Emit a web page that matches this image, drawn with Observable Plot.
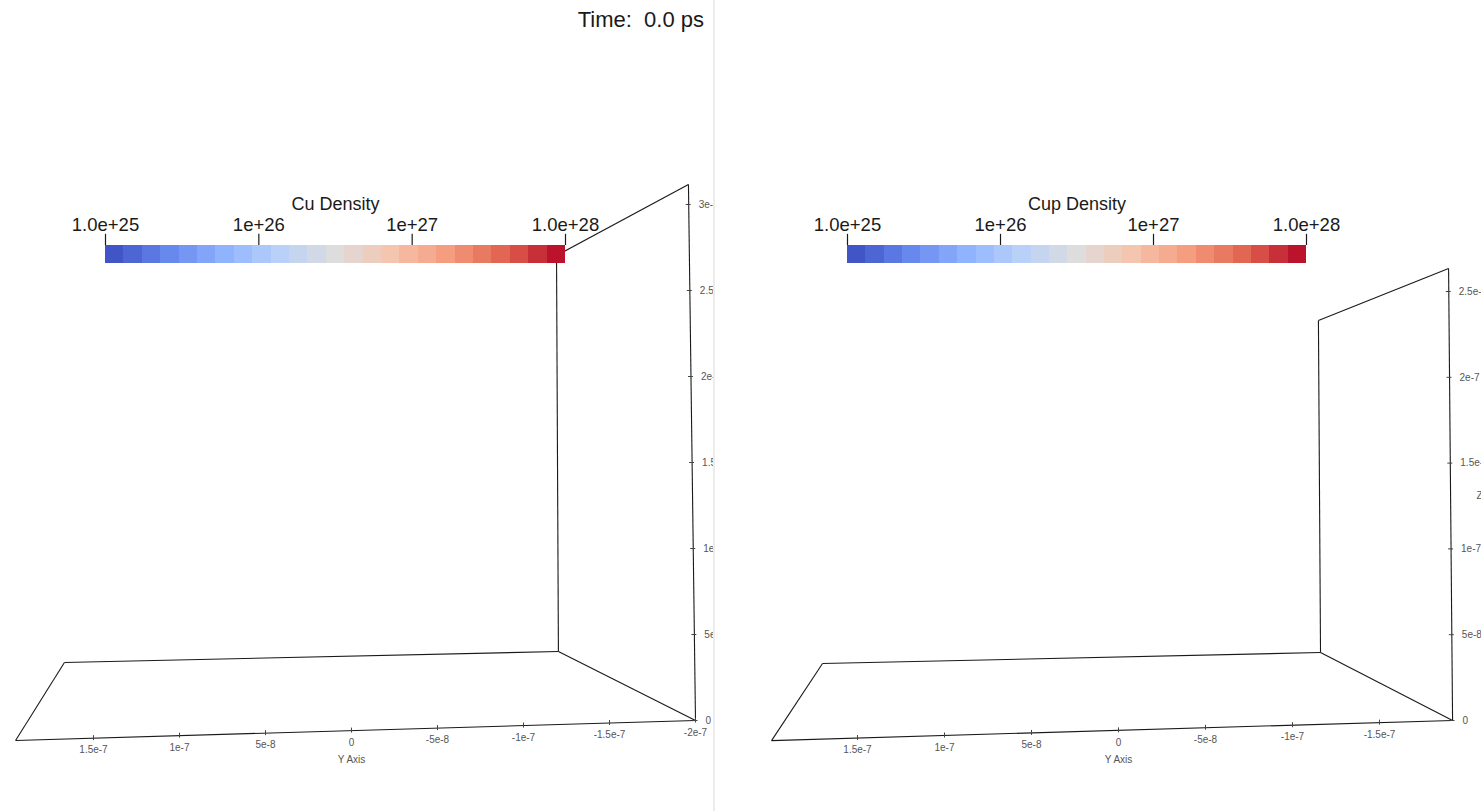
<!DOCTYPE html>
<html>
<head>
<meta charset="utf-8">
<script src="https://cdn.jsdelivr.net/npm/d3@7"></script>
<script src="https://cdn.jsdelivr.net/npm/@observablehq/plot@0.6"></script>
<style>
  html, body { margin: 0; padding: 0; background: #ffffff; }
  #root { position: relative; width: 1481px; height: 811px; overflow: hidden; font-family: "Liberation Sans", Arial, sans-serif; }
  .panel { position: absolute; top: 0; height: 811px; overflow: hidden; background: #ffffff; }
  .layer { position: absolute; top: 0; left: 0; }
  .divider { position: absolute; top: 0; left: 713px; width: 2px; height: 811px; background: #ececec; }
  .time { position: absolute; top: 9px; right: 9px; font-size: 22px; line-height: 22px; color: #1a1a1a; white-space: pre; }
</style>
</head>
<body>
<div id="root"></div>
<script>
// ---------------- data ----------------
const timeLabel = "Time:  0.0 ps";
const panelTitles = ["Cu Density", "Cup Density"];

const densityDomain = [1e25, 1e28];
const densityTicks = [1e25, 1e26, 1e27, 1e28];
const densityTickLabels = ["1.0e+25", "1e+26", "1e+27", "1.0e+28"];
const colorBinCount = 25;

const yAxisTicks = [2e-7, 1.5e-7, 1e-7, 5e-8, 0, -5e-8, -1e-7, -1.5e-7, -2e-7];
const yAxisTickLabels = ["2e-7", "1.5e-7", "1e-7", "5e-8", "0", "-5e-8", "-1e-7", "-1.5e-7", "-2e-7"];
const zAxisTicks = [0, 5e-8, 1e-7, 1.5e-7, 2e-7, 2.5e-7, 3e-7];
const zAxisTickLabels = ["0", "5e-8", "1e-7", "1.5e-7", "2e-7", "2.5e-7", "3e-7"];
const yAxisTitle = "Y Axis";
const zAxisTitle = "Z Axis";
const zAxisTitleAt = 1.31e-7;

// outline box corners, projected onto the (Y axis, Z axis) view plane
// order: front-left-bottom, front-right-bottom (axes origin), back-left-bottom,
//        back-right-bottom, back-right-top, front-right-top
const cuOutlineY = [1.953e-7, -2.0e-7, 1.669e-7, -1.203e-7, -1.192e-7, -1.959e-7];
const cuOutlineZ = [-1.16e-8, 0, 3.37e-8, 4.01e-8, 2.703e-7, 3.116e-7];
const cupOutlineY = [1.994e-7, -1.920e-7, 1.701e-7, -1.161e-7, -1.149e-7, -1.897e-7];
const cupOutlineZ = [-1.17e-8, 0, 3.32e-8, 3.96e-8, 2.331e-7, 2.634e-7];
const outlineEdges = [[0, 1], [0, 2], [2, 3], [3, 1], [3, 4], [4, 5], [5, 1]];

// ---------------- colour map (cool to warm) ----------------
const coolWarm = d3.piecewise(d3.interpolateRgb, [
  "rgb(59,76,192)", "rgb(98,130,234)", "rgb(141,176,254)", "rgb(184,208,249)",
  "rgb(221,221,221)", "rgb(245,196,173)", "rgb(244,154,123)", "rgb(222,96,77)", "rgb(180,4,38)"
]);

const FONT = "'Liberation Sans', Arial, sans-serif";
const INK = "#1a1a1a";

function panelPlot(cfg) {
  const Ys = cfg.outlineY, Zs = cfg.outlineZ;
  const edges = outlineEdges.map(([i, j]) => ({y1: Ys[i], z1: Zs[i], y2: Ys[j], z2: Zs[j]}));
  // Y axis runs along front bottom edge (corner 0 -> corner 1)
  const yA = Ys[0], zA = Zs[0], yB = Ys[1], zB = Zs[1];
  const eps = 1e-12;
  const yTicks = yAxisTicks.map((v, i) => ({v, label: yAxisTickLabels[i]}))
    .filter(d => d.v <= yA + eps && d.v >= yB - eps)
    .map(d => ({...d, z: zA + (yA - d.v) / (yA - yB) * (zB - zA)}));
  // Z axis runs along front right vertical edge (corner 1 -> corner 5)
  const yF = Ys[5], zF = Zs[5];
  const zTicks = zAxisTicks.map((v, i) => ({v, label: zAxisTickLabels[i]}))
    .filter(d => d.v <= zF + eps)
    .map(d => ({...d, y: yB + (d.v - zB) / (zF - zB) * (yF - yB)}));
  const zTitle = [{v: zAxisTitleAt, y: yB + (zAxisTitleAt - zB) / (zF - zB) * (yF - yB)}];
  const y0 = [{v: 0, z: zA + (yA - 0) / (yA - yB) * (zB - zA)}];

  const hz = 2.5 / cfg.kz, hy = 2.5 / cfg.ky;
  return Plot.plot({
    width: cfg.width, height: 811,
    marginLeft: cfg.ml, marginRight: cfg.mr, marginTop: cfg.mt, marginBottom: cfg.mb,
    style: `background:transparent;font-family:${FONT};`,
    x: {domain: [2e-7, -2e-7], axis: null},
    y: {domain: cfg.zDomain, axis: null},
    marks: [
      Plot.link(edges, {x1: "y1", y1: "z1", x2: "y2", y2: "z2", stroke: INK, strokeWidth: 1.1}),
      Plot.ruleX(yTicks, {x: "v", y1: d => d.z - hz, y2: d => d.z + hz, stroke: "#444", strokeWidth: 1}),
      Plot.text(yTicks, {x: "v", y: "z", text: "label", dy: 12, fontSize: 10, fill: "#555"}),
      Plot.text(y0, {x: "v", y: "z", text: () => yAxisTitle, dy: 29, fontSize: 10, fill: "#555"}),
      Plot.ruleY(zTicks, {y: "v", x1: d => d.y + hy, x2: d => d.y - hy, stroke: "#444", strokeWidth: 1}),
      Plot.text(zTicks, {x: "y", y: "v", text: "label", dx: 10, textAnchor: "start", fontSize: 10, fill: "#555"}),
      Plot.text(zTitle, {x: "y", y: "v", text: () => zAxisTitle, dx: 26, textAnchor: "start", fontSize: 10, fill: "#555"})
    ]
  });
}

function colorbarPlot(title, width, ml, mr) {
  const lo = Math.log10(densityDomain[0]), hi = Math.log10(densityDomain[1]);
  const bins = d3.range(colorBinCount).map(i => ({
    x1: 10 ** (lo + (hi - lo) * i / colorBinCount),
    x2: 10 ** (lo + (hi - lo) * (i + 1) / colorBinCount),
    mid: 10 ** (lo + (hi - lo) * (i + 0.5) / colorBinCount)
  }));
  const ticks = densityTicks.map((v, i) => ({v, label: densityTickLabels[i]}));
  return Plot.plot({
    width, height: 280,
    marginLeft: ml, marginRight: mr, marginTop: 245, marginBottom: 17,
    style: `background:transparent;font-family:${FONT};`,
    x: {type: "log", domain: densityDomain, axis: null},
    y: {domain: [0, 1], axis: null},
    color: {type: "log", domain: densityDomain, interpolate: coolWarm},
    marks: [
      Plot.rect(bins, {x1: "x1", x2: "x2", y1: 0, y2: 1, fill: "mid", shapeRendering: "crispEdges"}),
      Plot.ruleX(ticks, {x: "v", y1: 1, y2: 1.62, stroke: INK, strokeWidth: 1.2}),
      Plot.text(ticks, {x: "v", y: 1, text: "label", dy: -20, fontSize: 18.5, fill: INK}),
      Plot.text([title], {x: Math.sqrt(densityDomain[0] * densityDomain[1]), y: 1, text: d => d, dy: -41, fontSize: 18, fill: INK})
    ]
  });
}

const root = document.getElementById("root");

const panels = [
  {left: 0, width: 713, ml: 7, mr: 18, mt: 204, mb: 91, zDomain: [0, 3e-7], ky: 1.72e9, kz: 1.72e9,
   outlineY: cuOutlineY, outlineZ: cuOutlineZ, title: panelTitles[0], cbl: 105, cbr: 713 - 565, time: true},
  {left: 715, width: 766, ml: 55, mr: 15, mt: 291, mb: 91, zDomain: [0, 2.5e-7], ky: 1.74e9, kz: 1.716e9,
   outlineY: cupOutlineY, outlineZ: cupOutlineZ, title: panelTitles[1], cbl: 132, cbr: 766 - 591, time: false}
];

for (const p of panels) {
  const div = document.createElement("div");
  div.className = "panel";
  div.style.left = p.left + "px";
  div.style.width = p.width + "px";
  const a = document.createElement("div"); a.className = "layer";
  a.appendChild(panelPlot(p));
  const b = document.createElement("div"); b.className = "layer";
  b.appendChild(colorbarPlot(p.title, p.width, p.cbl, p.cbr));
  div.appendChild(a); div.appendChild(b);
  if (p.time) {
    const t = document.createElement("div"); t.className = "time"; t.textContent = timeLabel;
    div.appendChild(t);
  }
  root.appendChild(div);
}
const dv = document.createElement("div"); dv.className = "divider"; root.appendChild(dv);
</script>
</body>
</html>
